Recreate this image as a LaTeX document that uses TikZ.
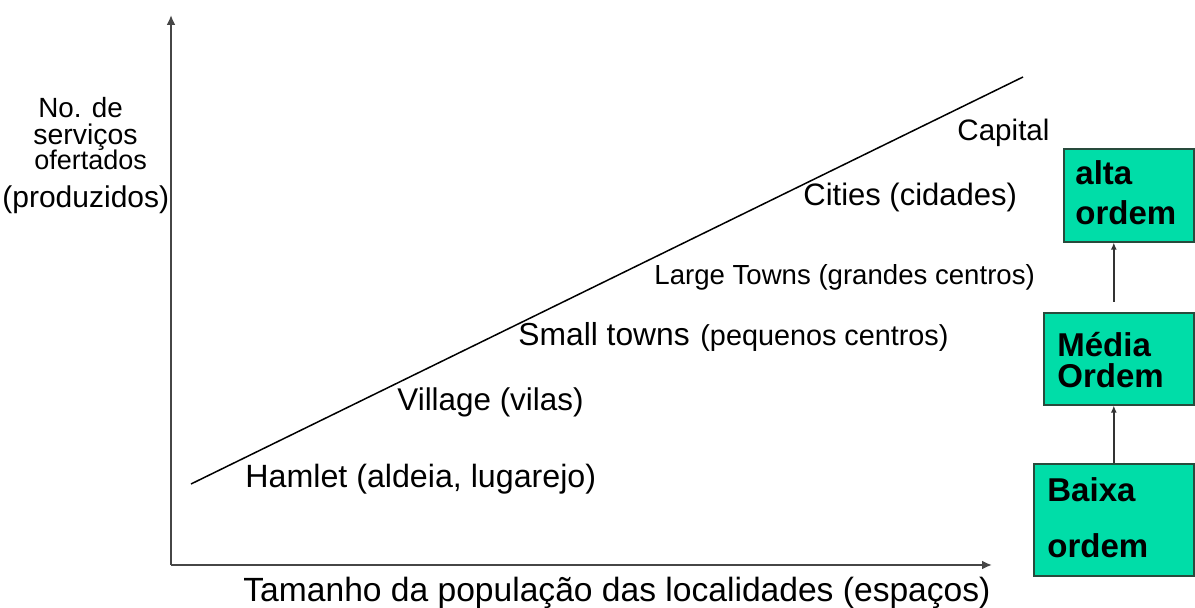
\documentclass[tikz,border=0pt]{standalone}
\usepackage{fontspec}
\setmainfont{Liberation Sans}
\usepackage{tikz}
\usetikzlibrary{arrows.meta}

\definecolor{ordfill}{RGB}{0,221,168}
\definecolor{orddraw}{RGB}{40,75,60}
\definecolor{axisgray}{RGB}{70,70,70}

\newcommand{\fsz}[1]{\fontsize{#1}{1.2\dimexpr#1pt\relax}\selectfont}

\begin{document}
\begin{tikzpicture}[x=0.5pt, y=-0.5pt]
  %[background rectangle/.style={fill=gray!15}, show background rectangle]
  \tikzstyle{lbl}=[inner sep=0pt, anchor=base west, font=\fsz{15.8}]
  \tikzstyle{ordbox}=[draw=orddraw, fill=ordfill, line width=0.8pt, anchor=north west, inner sep=0pt]
  \tikzstyle{ordtxt}=[inner sep=0pt, anchor=base west, font=\fsz{16.5}\bfseries]
  \tikzstyle{axis}=[draw=axisgray, line width=1.1pt, -{Latex[length=5pt,width=4.5pt]}]
  \tikzstyle{bxarrow}=[draw=black!80, line width=0.7pt, -{Latex[length=3.5pt,width=3pt]}]

  \useasboundingbox (0,0) rectangle (1195,608);

  % axes
  \coordinate (O) at (171,565);
  \coordinate (ytip) at (171,15);
  \coordinate (xtip) at (992,565);
  \draw[axis] (O) -- (ytip);
  \draw[axis] (O) -- (xtip);

  % line of places
  \coordinate (lo) at (191,484);
  \coordinate (hi) at (1023,77);
  \draw[line width=0.75pt] (lo) -- (hi);

  \node (hamlet)  [lbl, font=\fsz{16.1}] at (245,488) {Hamlet (aldeia, lugarejo)};
  \node (village) [lbl, font=\fsz{15.7}] at (397,411) {Village (vilas)};
  \node (small)   [lbl, font=\fsz{15.9}] at (518,346) {Small towns};
  \node (smallpt) [lbl, font=\fsz{14.4}] at (700,346) {(pequenos centros)};
  \node (large)   [lbl, font=\fsz{13.8}] at (654,285) {Large Towns (grandes centros)};
  \node (cities)  [lbl, font=\fsz{15.5}] at (803,206) {Cities (cidades)};
  \node (capital) [lbl, font=\fsz{14.8}] at (957,141) {Capital};

  % axis labels
  \node (ylab1) [lbl, font=\fsz{13.9}] at (38,118) {No. de};
  \node (ylab2) [lbl, font=\fsz{14.2}] at (33,145) {serviços};
  \node (ylab3) [lbl, font=\fsz{13.5}] at (34,170) {ofertados};
  \node (yprod) [lbl, font=\fsz{15}] at (2,208) {(produzidos)};
  \node (xlab)  [lbl, font=\fsz{16.8}] at (243,602) {Tamanho da população das localidades (espaços)};

  % order boxes
  \node (alta)  [ordbox, minimum width=65pt, minimum height=46.5pt] at (1063,148) {};
  \node (med)   [ordbox, minimum width=75pt, minimum height=46pt] at (1043,312) {};
  \node (baixa) [ordbox, minimum width=80pt, minimum height=56pt] at (1033,463) {};

  \node (alta1)  [ordtxt] at (1075,185) {alta};
  \node (alta2)  [ordtxt] at (1075,225) {ordem};
  \node (med1)   [ordtxt] at (1057,357) {Média};
  \node (med2)   [ordtxt] at (1057,388) {Ordem};
  \node (baixa1) [ordtxt] at (1047,502) {Baixa};
  \node (baixa2) [ordtxt] at (1047,558) {ordem};

  \draw[bxarrow] (baixa.north) -- (baixa.north |- med.south);
  \draw[bxarrow] ([yshift=5pt]baixa.north |- med.north) -- (baixa.north |- alta.south);

\end{tikzpicture}
\end{document}
